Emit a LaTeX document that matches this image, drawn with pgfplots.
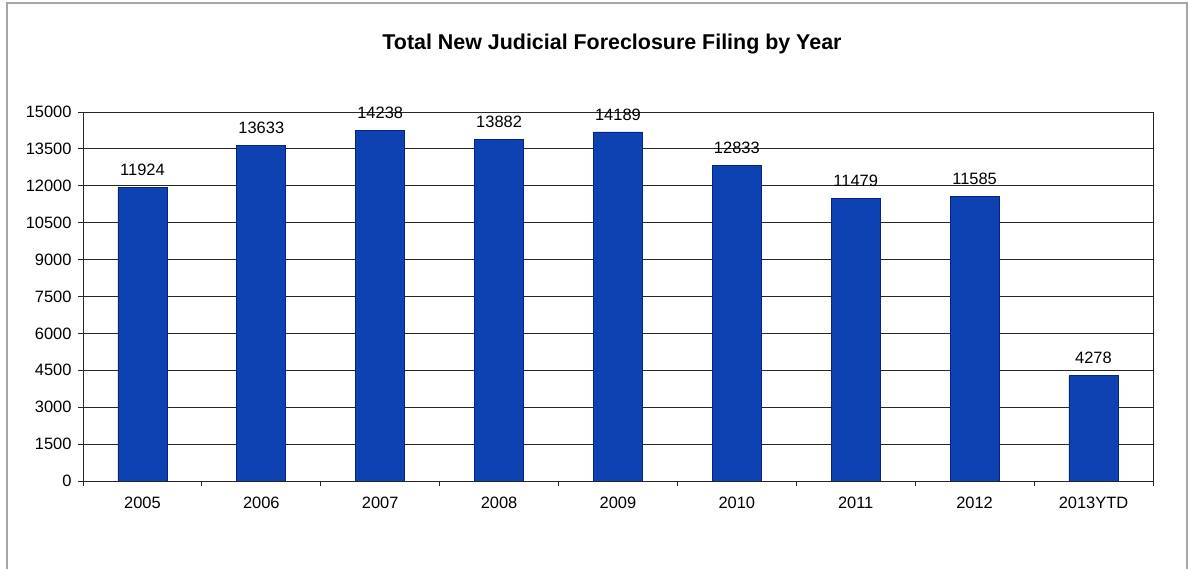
\documentclass[border=0pt]{standalone}
\usepackage{pgfplots}
\pgfplotsset{compat=1.18}
\usepackage{fontspec}
\setmainfont{Liberation Sans}
\definecolor{barblue}{RGB}{14,66,178}
\definecolor{baredge}{RGB}{6,36,120}
\begin{document}
\begin{tikzpicture}
\useasboundingbox (-83bp,-88bp) rectangle (1106bp,481bp);
\fill[white] (-83bp,-88bp) rectangle (1106bp,481bp);
\draw[black!35, line width=1.2bp] (-76bp,-100bp) -- (-76bp,478bp) -- (1104bp,478bp) -- (1104bp,-100bp);
\begin{axis}[
  at={(0,0)}, anchor=south west,
  scale only axis, width=1070bp, height=369bp,
  xmin=-0.5, xmax=8.5, ymin=0, ymax=15000,
  ybar, bar width=49bp,
  ytick={0,1500,...,15000},
  scaled y ticks=false,
  yticklabel style={/pgf/number format/fixed, /pgf/number format/1000 sep={}, /pgf/number format/assume math mode=true, font=\fontsize{16.5}{18}\selectfont, xshift=-3bp},
  ymajorgrids, grid style={black!85, line width=0.8bp},
  axis line style={black!85, line width=0.8bp},
  tick style={black!85, line width=0.8bp},
  xtick={-0.5,0.5,...,8.5}, xticklabels={},
  extra x ticks={0,1,2,3,4,5,6,7,8},
  extra x tick labels={2005,2006,2007,2008,2009,2010,2011,2012,2013YTD},
  extra x tick style={major tick length=0pt, grid=none},
  xticklabel style={font=\fontsize{16.5}{18}\selectfont, yshift=-13bp},
  tick align=outside, major tick length=5bp,
  xtick pos=bottom, ytick pos=left,
  title={Total New Judicial Foreclosure Filing by Year},
  title style={font=\bfseries\fontsize{21.5}{24}\selectfont, at={(0.5,1)}, anchor=center, yshift=62bp, xshift=-6bp},
  nodes near coords={\pgfmathprintnumber[fixed,precision=0,1000 sep={},assume math mode=true]{\pgfplotspointmeta}},
  every node near coord/.append style={font=\fontsize{16.5}{18}\selectfont, text=black, yshift=8bp},
]
\addplot[fill=barblue, draw=baredge, line width=0.8bp] coordinates {
  (0,11924) (1,13633) (2,14238) (3,13882) (4,14189) (5,12833) (6,11479) (7,11585) (8,4278)
};
\end{axis}
\end{tikzpicture}
\end{document}
